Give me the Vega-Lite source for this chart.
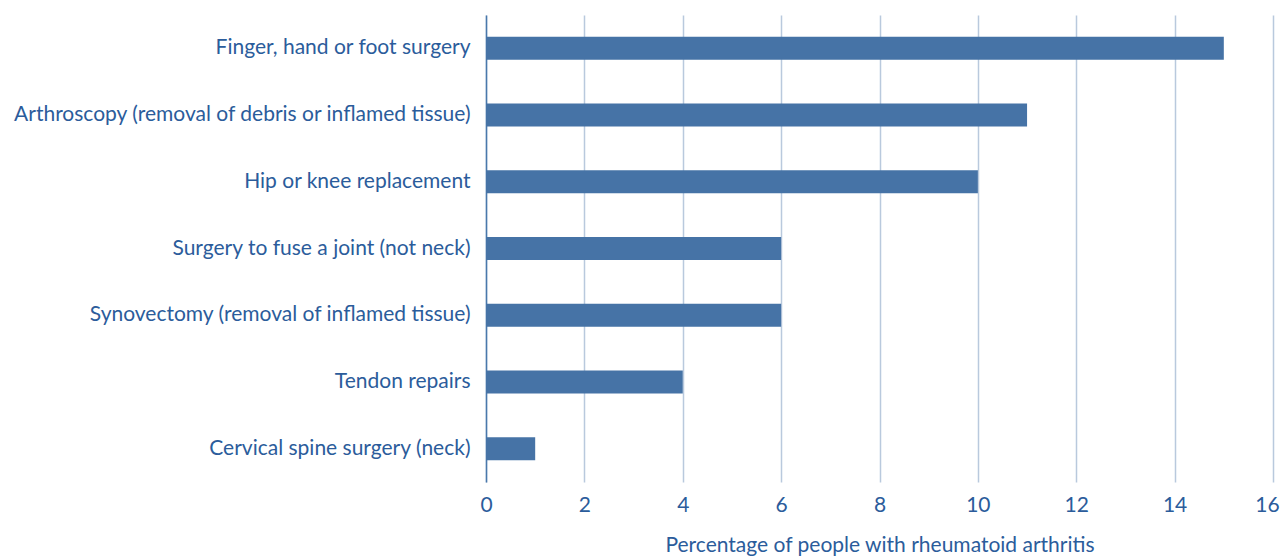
{
  "$schema": "https://vega.github.io/schema/vega-lite/v6.json",
  "width": 787,
  "height": 467,
  "autosize": "none",
  "padding": {"left": 486, "top": 15, "right": 10, "bottom": 77},
  "background": "white",
  "data": {"values": [
    {"procedure": "Finger, hand or foot surgery", "pct": 15},
    {"procedure": "Arthroscopy (removal of debris or inflamed tissue)", "pct": 11},
    {"procedure": "Hip or knee replacement", "pct": 10},
    {"procedure": "Surgery to fuse a joint (not neck)", "pct": 6},
    {"procedure": "Synovectomy (removal of inflamed tissue)", "pct": 6},
    {"procedure": "Tendon repairs", "pct": 4},
    {"procedure": "Cervical spine surgery (neck)", "pct": 1}
  ]},
  "config": {"view": {"stroke": null}, "font": "Lato"},
  "mark": {"type": "bar", "color": "#4673a6"},
  "encoding": {
    "y": {
      "field": "procedure", "type": "nominal", "sort": null,
      "scale": {"paddingInner": 0.655, "paddingOuter": 0.3275},
      "axis": {
        "title": null, "ticks": false, "domain": true, "domainColor": "#4a78ab", "domainWidth": 1.5,
        "labelFont": "Lato", "labelFontSize": 21, "labelColor": "#2b5c9b", "labelPadding": 16, "labelLimit": 600
      }
    },
    "x": {
      "field": "pct", "type": "quantitative",
      "scale": {"domain": [0, 16], "nice": false},
      "axis": {
        "values": [0, 2, 4, 6, 8, 10, 12, 14, 16],
        "title": "Percentage of people with rheumatoid arthritis",
        "titleFont": "Lato", "titleFontSize": 21, "titleFontWeight": "normal", "titleColor": "#2b5c9b", "titlePadding": 19,
        "ticks": false, "domain": false, "grid": true, "gridColor": "#b9c9dd", "gridWidth": 1.5,
        "labelFont": "Lato", "labelFontSize": 21, "labelColor": "#2b5c9b", "labelPadding": 12, "labelFlush": false,
        "labelOffset": {"condition": {"test": "datum.value == 16", "value": -6}, "value": 0}
      }
    }
  }
}
